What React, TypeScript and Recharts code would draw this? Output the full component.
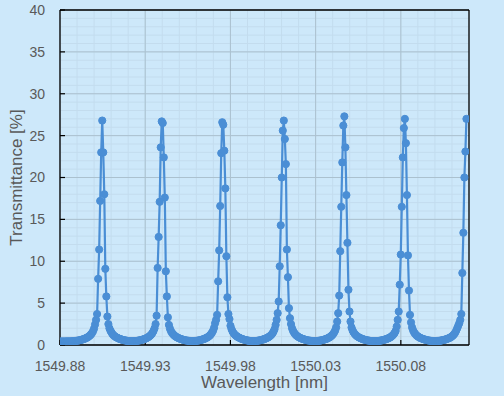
import React from 'react';
import { LineChart, Line, XAxis, YAxis, CartesianGrid, ReferenceLine, Label } from 'recharts';

// Sampling grid of the spectrum (nm)
const WL_START = 1549.8801;
const WL_STEP = 0.000602;

// Transmittance [%], one value per sample
const transmittance: number[] = [
  // trough + rise to peak 1
  0.42, 0.41, 0.43, 0.42, 0.41, 0.43, 0.42, 0.44, 0.43, 0.42,
  0.44, 0.44, 0.45, 0.45, 0.47, 0.48, 0.5, 0.52, 0.54, 0.57,
  0.6, 0.63, 0.67, 0.71, 0.76, 0.81, 0.87, 0.94, 1.03, 1.13,
  1.26, 1.42, 1.63, 1.95, 2.45,
  // peak 1
  3.0, 3.7, 7.9, 11.4, 17.2, 23.0, 26.8, 23.0, 18.0, 9.1, 5.8, 3.4,
  2.5, 2.0, 1.7, 1.5, 1.3, 1.17, 1.06, 0.97, 0.9, 0.84,
  0.78, 0.73, 0.69, 0.65, 0.61, 0.58, 0.55, 0.53, 0.51, 0.49,
  0.47, 0.46, 0.45, 0.45,
  0.46, 0.46, 0.47, 0.48, 0.5, 0.52, 0.54, 0.57, 0.6, 0.63,
  0.67, 0.71, 0.76, 0.81, 0.88, 0.95, 1.04, 1.15, 1.28, 1.45,
  1.68, 2.0, 2.5,
  // peak 2
  3.5, 9.2, 12.9, 17.1, 23.6, 26.7, 26.5, 22.4, 17.6, 8.8, 5.8, 3.3,
  2.4, 1.95, 1.65, 1.45, 1.3, 1.17, 1.07, 0.98, 0.91, 0.85,
  0.79, 0.74, 0.7, 0.66, 0.62, 0.59, 0.56, 0.54, 0.52, 0.5,
  0.48, 0.47, 0.46, 0.46,
  0.46, 0.47, 0.48, 0.5, 0.52, 0.54, 0.57, 0.6, 0.63, 0.67,
  0.71, 0.76, 0.82, 0.88, 0.95, 1.04, 1.15, 1.3, 1.47, 1.7,
  2.05, 2.6,
  // peak 3
  3.0, 3.6, 7.6, 11.3, 16.6, 22.9, 26.6, 26.3, 23.2, 18.7, 10.6, 5.7, 3.7, 3.1,
  2.3, 1.9, 1.62, 1.42, 1.27, 1.15, 1.05, 0.97, 0.9, 0.84,
  0.78, 0.73, 0.69, 0.65, 0.61, 0.58, 0.55, 0.53, 0.51, 0.49,
  0.47, 0.46, 0.45, 0.45,
  0.47, 0.48, 0.5, 0.52, 0.54, 0.57, 0.6, 0.63, 0.67, 0.71,
  0.76, 0.81, 0.87, 0.94, 1.02, 1.12, 1.24, 1.4, 1.6, 1.9,
  2.4,
  // peak 4
  3.0, 3.8, 5.2, 9.4, 14.3, 20.0, 25.6, 26.8, 24.6, 21.6, 11.4, 8.1, 4.4, 3.2,
  2.5, 2.0, 1.68, 1.47, 1.3, 1.17, 1.07, 0.98, 0.91, 0.85,
  0.79, 0.74, 0.7, 0.66, 0.62, 0.59, 0.56, 0.54, 0.52, 0.5,
  0.48, 0.47, 0.46, 0.46,
  0.46, 0.47, 0.48, 0.5, 0.52, 0.54, 0.57, 0.6, 0.63, 0.67,
  0.71, 0.76, 0.82, 0.88, 0.96, 1.05, 1.16, 1.3, 1.48, 1.72,
  2.1,
  // peak 5
  2.8, 3.8, 5.9, 11.2, 16.5, 21.8, 26.2, 27.3, 23.6, 17.9, 12.2, 6.6, 4.0, 2.8,
  2.1, 1.75, 1.52, 1.34, 1.2, 1.09, 1.0, 0.92, 0.86, 0.8,
  0.75, 0.7, 0.66, 0.62, 0.59, 0.56, 0.54, 0.52, 0.5, 0.48,
  0.47, 0.46, 0.46, 0.46,
  0.46, 0.47, 0.48, 0.5, 0.52, 0.54, 0.57, 0.6, 0.63, 0.67,
  0.71, 0.76, 0.81, 0.87, 0.94, 1.03, 1.14, 1.27, 1.44, 1.68,
  2.2,
  // peak 6
  3.0, 4.0, 7.2, 10.8, 16.5, 22.4, 25.9, 27.0, 24.1, 17.9, 10.7, 6.5, 3.6, 2.7,
  2.1, 1.75, 1.5, 1.33, 1.19, 1.08, 0.99, 0.92, 0.85, 0.8,
  0.75, 0.7, 0.66, 0.63, 0.6, 0.57, 0.54, 0.52, 0.5, 0.48,
  0.47, 0.46, 0.46, 0.46,
  0.47, 0.48, 0.49, 0.51, 0.53, 0.55, 0.58, 0.61, 0.64, 0.68,
  0.72, 0.77, 0.82, 0.88, 0.95, 1.04, 1.15, 1.29, 1.46, 1.7,
  2.0, 2.3, 2.6,
  // peak 7 (cut at the right edge)
  3.0, 3.7, 8.6, 13.4, 20.0, 23.1, 27.0,
];

const xTicks = [1549.88, 1549.93, 1549.98, 1550.03, 1550.08];
const yTicks = [0, 5, 10, 15, 20, 25, 30, 35, 40];
const X_MIN = 1549.88;
const X_MAX = 1550.12;
const Y_MIN = 0;
const Y_MAX = 40;

const xMinor = Array.from({ length: 25 }, (_, k) => +(X_MIN + 0.01 * k).toFixed(2));
const yMinor = Array.from({ length: 41 }, (_, k) => k);

const data = transmittance.map((t, i) => ({ wl: WL_START + i * WL_STEP, t }));

const BLUE = '#4a8ed5';
const BG = '#cde8fa';
const TEXT = '#595959';
const FONT = '"Liberation Sans", Arial, sans-serif';

export default function App() {
  return (
    <div style={{ position: 'absolute', left: 0, top: 0, width: 504, height: 396, background: BG, fontFamily: FONT }}>
      <LineChart width={504} height={396} data={data} margin={{ top: 10, right: 35, bottom: 0, left: 0 }}>
        <CartesianGrid horizontalValues={yMinor} verticalValues={xMinor} stroke="#c3dcee" strokeWidth={1} />
        <CartesianGrid horizontalValues={yTicks} verticalValues={xTicks} stroke="#abc1cf" strokeWidth={1} />
        <XAxis
          dataKey="wl"
          type="number"
          domain={[X_MIN, X_MAX]}
          ticks={xTicks}
          interval={0}
          allowDataOverflow
          tickFormatter={(v: number) => v.toFixed(2)}
          height={51}
          tickSize={-5}
          tickMargin={21}
          axisLine={{ stroke: '#000', strokeWidth: 1.3 }}
          tickLine={{ stroke: '#000', strokeWidth: 1.2 }}
          tick={{ fill: TEXT, fontSize: 14, fontFamily: FONT }}
        >
          <Label
            content={(props: any) => {
              const vb = props.viewBox || { x: 60, y: 345, width: 409, height: 51 };
              return (
                <text x={vb.x + vb.width / 2} y={vb.y + 43} textAnchor="middle" fill={TEXT} fontSize={17} fontFamily={FONT}>
                  Wavelength [nm]
                </text>
              );
            }}
          />
        </XAxis>
        <YAxis
          type="number"
          domain={[Y_MIN, Y_MAX]}
          ticks={yTicks}
          interval={0}
          allowDataOverflow
          width={60}
          tickSize={-5}
          tickMargin={20}
          axisLine={{ stroke: '#000', strokeWidth: 1.3 }}
          tickLine={{ stroke: '#000', strokeWidth: 1.2 }}
          tick={{ fill: TEXT, fontSize: 14, fontFamily: FONT }}
        >
          <Label
            content={(props: any) => {
              const vb = props.viewBox || { x: 0, y: 10, width: 60, height: 335 };
              const cx = vb.x + 22;
              const cy = vb.y + vb.height / 2;
              return (
                <text x={cx} y={cy} transform={`rotate(-90 ${cx} ${cy})`} textAnchor="middle" fill={TEXT} fontSize={17} fontFamily={FONT}>
                  Transmittance [%]
                </text>
              );
            }}
          />
        </YAxis>
        <ReferenceLine y={Y_MAX} stroke="#000" strokeWidth={1.3} />
        <ReferenceLine x={X_MAX} stroke="#000" strokeWidth={1.3} />
        <Line
          type="linear"
          dataKey="t"
          stroke={BLUE}
          strokeWidth={2.2}
          dot={{ r: 3.6, fill: BLUE, stroke: BLUE, strokeWidth: 1 }}
          activeDot={false}
          isAnimationActive={false}
        />
      </LineChart>
    </div>
  );
}
